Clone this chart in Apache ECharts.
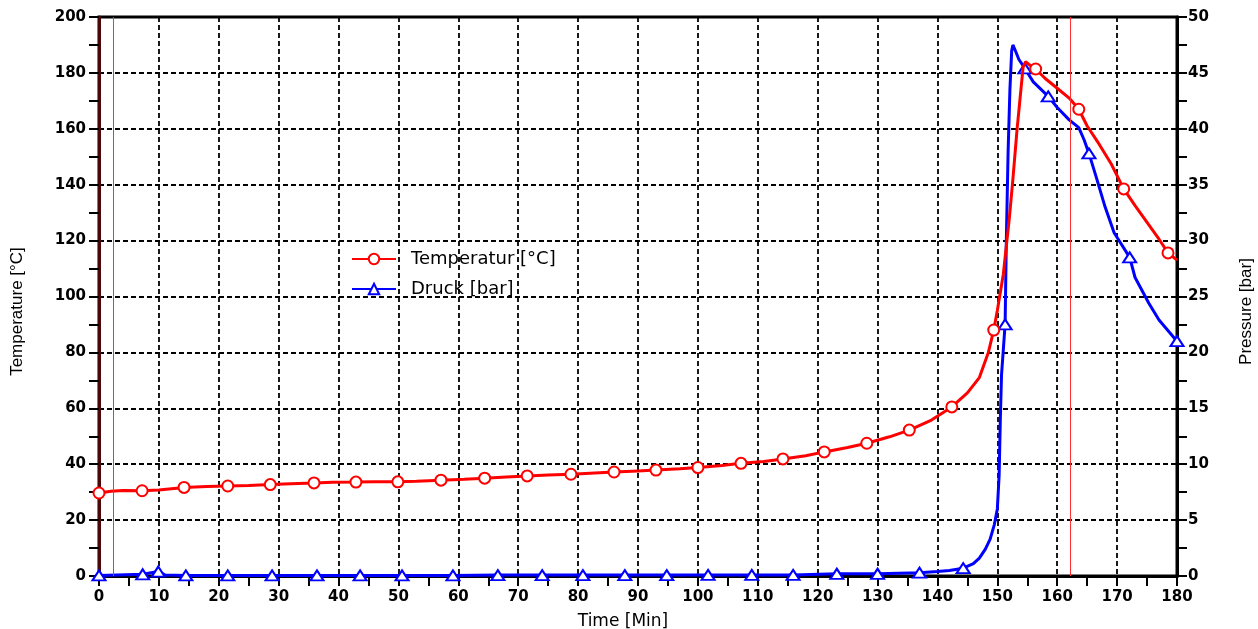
<!DOCTYPE html>
<html>
<head>
<meta charset="utf-8">
<script src="https://cdn.jsdelivr.net/npm/echarts@6/dist/echarts.min.js"></script>
<style>html,body{margin:0;padding:0;background:#fff;}#c{width:1258px;height:629px;}</style>
</head>
<body>
<div id="c"></div>
<script>
// ---- data ----
const seriesNames = ['Temperatur [°C]', 'Druck [bar]'];
const axisTitles = ['Time [Min]', 'Temperature [°C]', 'Pressure [bar]'];

const tempTime  = [0, 2, 4, 7.2, 10, 14.2, 18, 21.5, 25, 28.6, 32, 35.9, 39, 42.9, 46, 49.9, 53, 57.1, 61, 64.4, 68, 71.5, 75, 78.8, 82, 86, 90, 93, 97, 100, 104, 107.2, 111, 114.2, 118, 121.1, 125, 128.2, 132, 135.3, 139, 142.4, 145, 147, 148.5, 149.4, 150, 151, 151.5, 152, 152.6, 153.3, 153.8, 154.3, 154.7, 155.3, 156.4, 158, 160, 162, 163.6, 165, 167, 169, 171.1, 173, 175, 177, 178.5, 180];
const tempValue = [29.7, 30.3, 30.6, 30.5, 30.8, 31.7, 32.0, 32.2, 32.4, 32.7, 33.0, 33.3, 33.5, 33.6, 33.7, 33.7, 33.9, 34.3, 34.6, 35.0, 35.4, 35.8, 36.1, 36.4, 36.8, 37.2, 37.6, 37.9, 38.4, 38.8, 39.5, 40.3, 41.0, 41.9, 43.0, 44.4, 46.0, 47.5, 49.8, 52.2, 55.8, 60.5, 65.5, 71, 80, 88, 95, 108, 118, 128, 142, 160, 171, 182, 184, 183, 181.4, 178, 174.5, 171, 167, 161, 154.5, 147.5, 138.5, 132.5, 126.5, 120.5, 115.6, 113];
const tempMarkers = [0, 7.2, 14.2, 21.5, 28.6, 35.9, 42.9, 49.9, 57.1, 64.4, 71.5, 78.8, 86, 93, 100, 107.2, 114.2, 121.1, 128.2, 135.3, 142.4, 149.4, 156.4, 163.6, 171.1, 178.5];

const presTime  = [0, 3, 7.3, 9.9, 11, 14.5, 21.5, 28.9, 36.4, 43.6, 50.6, 59.1, 66.6, 74, 80.8, 87.8, 94.8, 101.7, 109, 115.9, 123.2, 130, 137, 140, 142, 144.3, 146, 147, 148, 148.8, 149.5, 150, 150.3, 150.5, 150.7, 151.3, 151.5, 151.8, 152.1, 152.4, 152.6, 153, 153.6, 154.6, 156, 158.5, 160, 162, 163.6, 164.5, 165.3, 166.5, 168, 169.5, 172.1, 173, 175.3, 177, 180];
const presValue = [0.05, 0.1, 0.15, 0.4, 0.1, 0.05, 0.05, 0.05, 0.05, 0.05, 0.05, 0.05, 0.08, 0.08, 0.08, 0.08, 0.08, 0.1, 0.1, 0.1, 0.2, 0.2, 0.3, 0.4, 0.5, 0.7, 1.1, 1.6, 2.4, 3.3, 4.6, 6, 9, 14, 18, 22.5, 30, 38, 43.5, 47, 47.5, 47, 46.2, 45.4, 44.2, 42.9, 41.9, 40.8, 40.1, 39, 37.8, 35.7, 33, 30.7, 28.5, 26.7, 24.4, 22.9, 21];
const presMarkers = [0, 7.3, 9.9, 14.5, 21.5, 28.9, 36.4, 43.6, 50.6, 59.1, 66.6, 74, 80.8, 87.8, 94.8, 101.7, 109, 115.9, 123.2, 130, 137, 144.3, 151.3, 154.6, 158.5, 165.3, 172.1, 180];

const refLines = [2.3, 162.1];

const xMin = 0, xMax = 180, xStep = 10;
const tMin = 0, tMax = 200, tStep = 20;
const pMin = 0, pMax = 50, pStep = 5;

// ---- build ----
function build(ts, vs, marks) {
  return ts.map((t, i) => marks.indexOf(t) >= 0 ? { value: [t, vs[i]] } : { value: [t, vs[i]], symbol: 'none' });
}

const tickFont = { fontFamily: 'DejaVu Sans', fontWeight: 'bold', fontSize: 15, color: '#000' };
const dashed = { show: true, lineStyle: { color: '#000', width: 1.8, type: [5, 3] } };

const chart = echarts.init(document.getElementById('c'), null, { renderer: 'canvas' });
chart.setOption({
  animation: false,
  backgroundColor: '#fff',
  grid: { left: 99, right: 81, top: 17, bottom: 53, show: true, borderColor: '#000', borderWidth: 3, containLabel: false, outerBoundsMode: 'none' },
  legend: {
    orient: 'vertical', left: 346, top: 245, itemWidth: 44, itemHeight: 13, itemGap: 12,
    data: [seriesNames[0], seriesNames[1]],
    textStyle: { fontFamily: 'DejaVu Sans', fontSize: 18, color: '#000', padding: [0, 0, 0, 10] }
  },
  xAxis: {
    type: 'value', min: xMin, max: xMax, interval: xStep,
    name: axisTitles[0], nameLocation: 'middle', nameGap: 37,
    nameTextStyle: { fontFamily: 'DejaVu Sans', fontSize: 17, color: '#000', padding: [0, 30, 0, 0] },
    axisLine: { show: true, lineStyle: { color: '#000', width: 3 } },
    axisTick: { show: true, length: 10, lineStyle: { color: '#000', width: 2 } },
    minorTick: { show: true, splitNumber: 2, length: 10, lineStyle: { color: '#000', width: 2 } },
    axisLabel: Object.assign({ margin: 14 }, tickFont),
    splitLine: dashed
  },
  yAxis: [{
    type: 'value', min: tMin, max: tMax, interval: tStep, position: 'left',
    name: axisTitles[1], nameLocation: 'middle', nameGap: 73, nameRotate: 90,
    nameTextStyle: { fontFamily: 'Liberation Sans', fontSize: 17, color: '#000', padding: [0, 30, 0, 0] },
    axisLine: { show: true, lineStyle: { color: '#4a0808', width: 3 } },
    axisTick: { show: true, length: 10, lineStyle: { color: '#000', width: 2 } },
    minorTick: { show: true, splitNumber: 2, length: 10, lineStyle: { color: '#000', width: 2 } },
    axisLabel: Object.assign({ margin: 13 }, tickFont),
    splitLine: dashed
  }, {
    type: 'value', min: pMin, max: pMax, interval: pStep, position: 'right',
    name: axisTitles[2], nameLocation: 'middle', nameGap: 61, nameRotate: 90,
    nameTextStyle: { fontFamily: 'Liberation Sans', fontSize: 17, color: '#000', padding: [0, 30, 0, 0] },
    axisLine: { show: true, lineStyle: { color: '#000', width: 3 } },
    axisTick: { show: true, length: 10, lineStyle: { color: '#000', width: 2 } },
    minorTick: { show: true, splitNumber: 2, length: 10, lineStyle: { color: '#000', width: 2 } },
    axisLabel: Object.assign({ margin: 11 }, tickFont),
    splitLine: { show: false }
  }],
  series: [{
    name: seriesNames[1], type: 'line', yAxisIndex: 1,
    data: build(presTime, presValue, presMarkers),
    symbol: 'emptyTriangle', symbolSize: [13, 10], showSymbol: true,
    lineStyle: { color: '#0000ff', width: 3 },
    itemStyle: { color: '#0000ff', borderWidth: 1.5 },
    z: 3
  }, {
    name: seriesNames[0], type: 'line', yAxisIndex: 0,
    data: build(tempTime, tempValue, tempMarkers),
    symbol: 'emptyCircle', symbolSize: 11, showSymbol: true,
    lineStyle: { color: '#ff0000', width: 3 },
    itemStyle: { color: '#ff0000', borderWidth: 1.5 },
    markLine: {
      silent: true, symbol: 'none', label: { show: false },
      lineStyle: { color: '#ff3030', width: 1, type: 'solid' },
      data: refLines.map(v => ({ xAxis: v }))
    },
    z: 4
  }]
});
</script>
</body>
</html>
